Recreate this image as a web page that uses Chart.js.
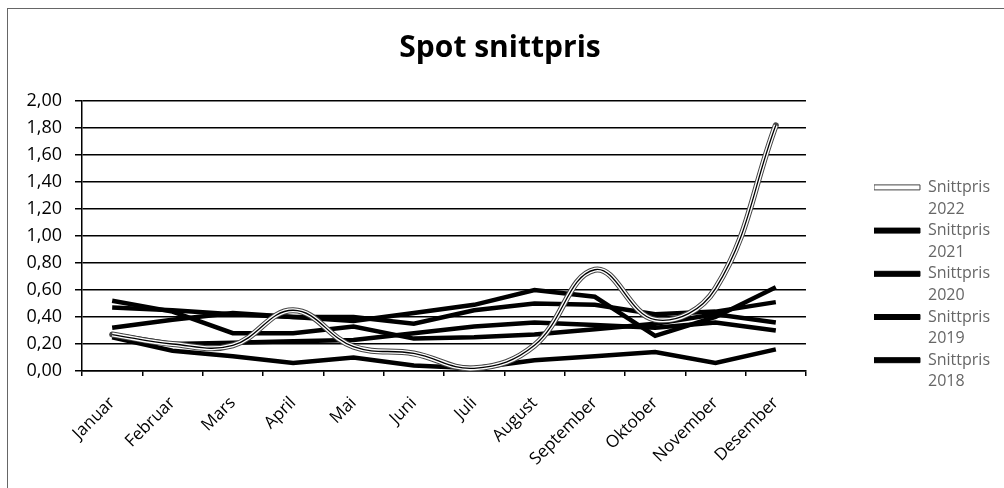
<!DOCTYPE html>
<html>
<head>
<meta charset="utf-8">
<script src="https://cdn.jsdelivr.net/npm/chart.js@4.4.1/dist/chart.umd.min.js"></script>
<style>
    html, body { margin: 0; padding: 0; background: #fff; overflow: hidden; }
    #wrap { position: relative; width: 1004px; height: 488px; }
    #frame { position: absolute; left: 7px; top: 8px; width: 1100px; height: 600px; border: 1px solid #666; }
    canvas { position: absolute; left: 0; top: 0; }
</style>
</head>
<body>
<div id="wrap">
    <div id="frame"></div>
    <canvas id="chart" width="1004" height="488"></canvas>
</div>
<script>
const months = ['Januar', 'Februar', 'Mars', 'April', 'Mai', 'Juni', 'Juli', 'August', 'September', 'Oktober', 'November', 'Desember'];

const s2022 = [0.27, 0.20, 0.19, 0.45, 0.18, 0.13, 0.02, 0.19, 0.75, 0.38, 0.61, 1.82];
const s2021 = [0.47, 0.45, 0.42, 0.40, 0.40, 0.35, 0.45, 0.50, 0.49, 0.42, 0.44, 0.51];
const s2020 = [0.25, 0.15, 0.11, 0.06, 0.10, 0.04, 0.02, 0.08, 0.11, 0.14, 0.06, 0.16];
const s2019 = [0.52, 0.44, 0.28, 0.28, 0.33, 0.24, 0.25, 0.27, 0.31, 0.35, 0.42, 0.36];
const s2018 = [0.32, 0.38, 0.43, 0.40, 0.37, 0.43, 0.49, 0.60, 0.55, 0.26, 0.40, 0.62];
const s2017 = [0.27, 0.20, 0.21, 0.22, 0.23, 0.28, 0.33, 0.36, 0.34, 0.32, 0.36, 0.30];

const legendYears = ['2022', '2021', '2020', '2019', '2018'];

const FONT = '"Open Sans", "Liberation Sans", sans-serif';

function blackLine(label, data, order) {
    return {
        label: label,
        data: data,
        borderColor: '#000',
        borderWidth: 4.5,
        tension: 0,
        pointRadius: 0,
        order: order
    };
}

// 2022 is a "double" line: grey outline, white fill, thin black core
const datasets = [
    { label: 'Snittpris 2022', data: s2022, borderColor: '#000', borderWidth: 1.3, tension: 0.4, pointRadius: 0, order: 0 },
    { label: '_w2022', data: s2022, borderColor: '#fff', borderWidth: 4, tension: 0.4, pointRadius: 0, order: 1 },
    { label: '_g2022', data: s2022, borderColor: '#444', borderWidth: 6, tension: 0.4, pointRadius: 0, borderCapStyle: 'round', order: 2 },
    blackLine('Snittpris 2021', s2021, 3),
    blackLine('Snittpris 2020', s2020, 4),
    blackLine('Snittpris 2019', s2019, 5),
    blackLine('Snittpris 2018', s2018, 6),
    blackLine('Snittpris 2017', s2017, 7)
];

new Chart(document.getElementById('chart'), {
    type: 'line',
    data: { labels: months, datasets: datasets },
    options: {
        responsive: false,
        animation: false,
        devicePixelRatio: 1,
        layout: { padding: { left: 0, right: 4, top: 0, bottom: 0 } },
        plugins: {
            tooltip: { enabled: false },
            title: {
                display: true,
                text: 'Spot snittpris',
                color: '#000',
                font: { family: FONT, size: 30, weight: 'bold', lineHeight: 1.2 },
                padding: { top: 30, bottom: 35 }
            },
            legend: {
                position: 'right',
                align: 'start',
                title: { display: true, text: '', font: { size: 12, lineHeight: 1.2 }, padding: { top: 165, bottom: 0 } },
                labels: {
                    boxWidth: 46,
                    boxHeight: 5,
                    padding: 0,
                    color: '#000',
                    font: { family: FONT, size: 16, lineHeight: 1.35 },
                    generateLabels: () => legendYears.map((y, i) => ({
                        text: ['Snittpris', y],
                        fillStyle: y === '2022' ? '#fff' : '#000',
                        strokeStyle: y === '2022' ? '#444' : '#000',
                        lineWidth: 1,
                        hidden: false,
                        datasetIndex: i
                    }))
                }
            }
        },
        scales: {
            x: {
                offset: true,
                grid: { display: true, drawOnChartArea: false, offset: true, tickLength: 5, color: '#000', lineWidth: 1.5 },
                border: { color: '#000', width: 1.5 },
                ticks: { minRotation: 45, maxRotation: 45, autoSkip: false, padding: 17, color: '#000', font: { family: FONT, size: 17 } },
                afterFit: s => { s.height = 117; }
            },
            y: {
                min: 0,
                max: 2,
                grid: { color: '#000', lineWidth: 1.5, tickLength: 7 },
                border: { color: '#000', width: 1.5 },
                ticks: {
                    stepSize: 0.2,
                    padding: 13,
                    color: '#000',
                    font: { family: FONT, size: 18 },
                    callback: v => v.toFixed(2).replace('.', ',')
                },
                afterFit: s => { s.width = 82; }
            },
            y2: {
                position: 'right',
                display: true,
                grid: { display: false },
                border: { display: false },
                ticks: { display: false },
                afterFit: s => { s.width = 68; }
            }
        }
    }
});
</script>
</body>
</html>
